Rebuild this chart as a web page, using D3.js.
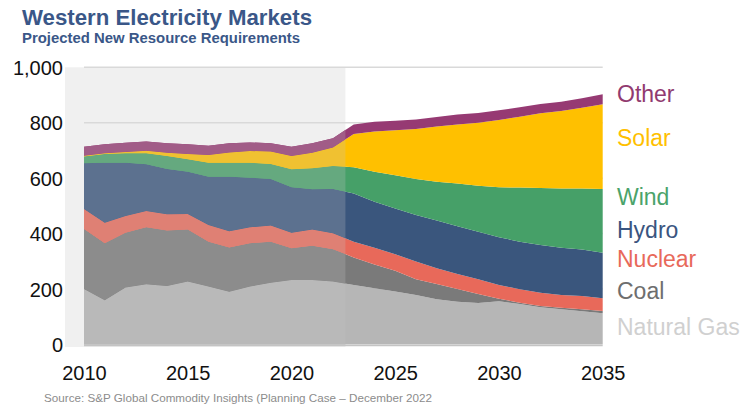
<!DOCTYPE html>
<html>
  <head>
    <meta charset="utf-8">
    <title>Western Electricity Markets</title>
    <script src="https://d3js.org/d3.v7.min.js"></script>
    <style>
      body{
        margin: 0;
        background: #fff;
        font-family: Arial, 'Liberation Sans', sans-serif;
      }
    </style>
  </head>
  <body>

    <svg></svg>

    <script>

      //begin: data
      var years = [2010, 2011, 2012, 2013, 2014, 2015, 2016, 2017, 2018, 2019, 2020, 2021, 2022,
                   2023, 2024, 2025, 2026, 2027, 2028, 2029, 2030, 2031, 2032, 2033, 2034, 2035];

      var naturalGas = [200, 160, 206, 217, 211, 227, 209, 190, 209, 223, 233, 233, 227,
                        215, 203, 191, 179, 163, 154, 150, 156, 146, 134, 127, 120, 113];
      var coal       = [217, 205, 197, 206, 200, 188, 162, 160, 156, 148, 114, 123, 117,
                        99, 86, 75, 56, 55, 46, 32, 9, 5, 5, 6, 7, 8];
      var nuclear    = [72, 74, 61, 59, 59, 56, 60, 59, 58, 58, 56, 59, 57,
                        57, 60, 60, 64, 57, 54, 53, 50, 48, 48, 46, 48, 46];
      var hydro      = [165, 217, 192, 168, 163, 152, 174, 196, 179, 168, 164, 145, 160,
                        174, 166, 165, 168, 172, 173, 172, 172, 172, 172, 170, 168, 164];
      var wind       = [24, 31, 34, 40, 47, 45, 51, 51, 54, 54, 65, 76, 83,
                        94, 108, 120, 130, 140, 154, 166, 180, 195, 206, 214, 220, 230];
      var solar      = [3, 3, 4, 9, 12, 19, 28, 37, 42, 45, 48, 56, 67,
                        120, 145, 162, 180, 199, 213, 227, 243, 256, 269, 279, 291, 306];
      var other      = [32, 32, 34, 33, 34, 35, 33, 33, 31, 30, 33, 34, 33,
                        35, 36, 34, 35, 35, 36, 35, 35, 34, 34, 34, 34, 36];

      var seriesNames = ["Natural Gas", "Coal", "Nuclear", "Hydro", "Wind", "Solar", "Other"];
      var seriesValues = [naturalGas, coal, nuclear, hydro, wind, solar, other];

      var yTicks = [0, 200, 400, 600, 800, 1000];
      var xTicks = [2010, 2015, 2020, 2025, 2030, 2035];

      var historicalEnd = 2022.6; // shaded "actuals" band
      //end: data

      //begin: styles
      var areaColors  = ["#b6b6b6", "#7a7a7a", "#e8695a", "#3a567d", "#46a068", "#ffc000", "#963a73"];
      var labelColors = ["#d0d0d0", "#6e6e6e", "#e8695a", "#3a5580", "#4aa36a", "#ffc000", "#913a70"];
      var labelBaselines = [335, 299, 266.5, 237.5, 205, 145.5, 101.5];
      var shadeColor = "rgb(195,195,195)",
          shadeAlpha = 0.25;
      //end: styles

      //begin: layout conf.
      var svgWidth = 745,
          svgHeight = 406,
          plotLeft = 84,
          plotRight = 602.7,
          plotTop = 67.3,
          plotBottom = 344.5;
      //end: layout conf.

      var table = years.map(function(y, i){
        var row = {year: y};
        seriesNames.forEach(function(name, k){ row[name] = seriesValues[k][i]; });
        return row;
      });

      var stacked = d3.stack().keys(seriesNames)(table);

      var x = d3.scaleLinear().domain([2010, 2035]).range([plotLeft, plotRight]);
      var y = d3.scaleLinear().domain([0, 1000]).range([plotBottom, plotTop]);

      var area = d3.area()
        .x(function(d){ return x(d.data.year); })
        .y0(function(d){ return y(d[0]); })
        .y1(function(d){ return y(d[1]); });

      var svg = d3.select("svg")
        .attr("width", svgWidth)
        .attr("height", svgHeight)
        .style("display", "block");

      // shaded historical background
      var histX0 = 65,
          histX1 = x(historicalEnd);
      svg.append("rect")
        .attr("x", histX0)
        .attr("y", y(1000))
        .attr("width", histX1 - histX0)
        .attr("height", y(0) - y(1000) + 2.5)
        .attr("fill", d3.interpolateRgb("#ffffff", shadeColor)(shadeAlpha));

      // gridlines
      svg.append("g")
        .selectAll("line")
        .data(yTicks.filter(function(t){ return t > 0; }))
        .enter()
          .append("line")
            .attr("x1", plotLeft)
            .attr("x2", plotRight)
            .attr("y1", function(d){ return y(d); })
            .attr("y2", function(d){ return y(d); })
            .attr("stroke", "#d9d9d9")
            .attr("stroke-width", 1.5);

      // areas, full colour
      svg.append("g")
        .selectAll("path")
        .data(stacked)
        .enter()
          .append("path")
            .attr("d", area)
            .attr("fill", function(d, i){ return areaColors[i]; });

      // areas, tinted inside the historical band
      svg.append("clipPath")
        .attr("id", "histClip")
        .append("rect")
          .attr("x", histX0)
          .attr("y", 0)
          .attr("width", histX1 - histX0)
          .attr("height", svgHeight);

      svg.append("g")
        .attr("clip-path", "url(#histClip)")
        .selectAll("path")
        .data(stacked)
        .enter()
          .append("path")
            .attr("d", area)
            .attr("fill", function(d, i){ return d3.interpolateRgb(areaColors[i], shadeColor)(shadeAlpha); });

      // zero baseline
      svg.append("line")
        .attr("x1", plotLeft)
        .attr("x2", plotRight)
        .attr("y1", y(0) + 1)
        .attr("y2", y(0) + 1)
        .attr("stroke", "#c4c4c4")
        .attr("stroke-width", 1.6);

      // y axis labels
      var yAxis = svg.append("g")
        .attr("transform", "translate(63,0)")
        .call(d3.axisLeft(y).tickValues(yTicks).tickSize(0).tickPadding(0).tickFormat(d3.format(",")));
      yAxis.select(".domain").remove();
      yAxis.selectAll("text")
        .attr("font-size", 20)
        .attr("font-family", "Arial, 'Liberation Sans', sans-serif")
        .attr("fill", "#111")
        .attr("dy", "0.36em");

      // x axis labels
      var xAxis = svg.append("g")
        .attr("transform", "translate(0,362)")
        .call(d3.axisBottom(x).tickValues(xTicks).tickSize(0).tickPadding(0).tickFormat(d3.format("d")));
      xAxis.select(".domain").remove();
      xAxis.selectAll("text")
        .attr("font-size", 20)
        .attr("font-family", "Arial, 'Liberation Sans', sans-serif")
        .attr("fill", "#111")
        .attr("dy", "0.9em");

      // series labels on the right
      svg.append("g")
        .selectAll("text")
        .data(seriesNames)
        .enter()
          .append("text")
            .attr("x", 617)
            .attr("y", function(d, i){ return labelBaselines[i]; })
            .attr("font-size", 23)
            .attr("fill", function(d, i){ return labelColors[i]; })
            .text(function(d){ return d; });

      // titles
      svg.append("text")
        .attr("x", 22)
        .attr("y", 25)
        .attr("font-size", 22.5)
        .attr("font-weight", "bold")
        .attr("fill", "#3a5788")
        .attr("textLength", 290)
        .attr("lengthAdjust", "spacingAndGlyphs")
        .text("Western Electricity Markets");

      svg.append("text")
        .attr("x", 22)
        .attr("y", 42.5)
        .attr("font-size", 14.5)
        .attr("font-weight", "bold")
        .attr("fill", "#3a5788")
        .attr("textLength", 278)
        .attr("lengthAdjust", "spacingAndGlyphs")
        .text("Projected New Resource Requirements");

      svg.append("text")
        .attr("x", 44)
        .attr("y", 402)
        .attr("font-size", 11)
        .attr("fill", "#8c8c8c")
        .attr("textLength", 388)
        .attr("lengthAdjust", "spacingAndGlyphs")
        .text("Source: S&P Global Commodity Insights (Planning Case \u2013 December 2022");

    </script>
  </body>
</html>
